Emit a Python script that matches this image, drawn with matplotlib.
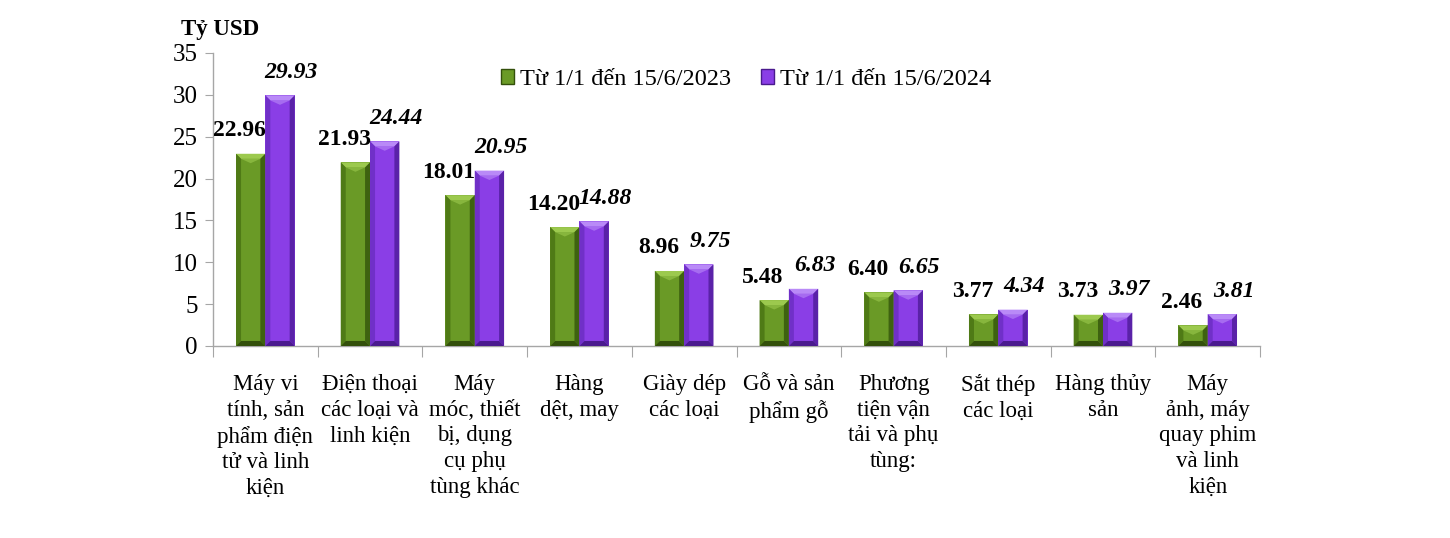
import matplotlib
matplotlib.use("Agg")
import matplotlib.pyplot as plt
from matplotlib.patches import Polygon, Patch
import numpy as np

categories = [
    "Máy vi\ntính, sản\nphẩm điện\ntử và linh\nkiện",
    "Điện thoại\ncác loại và\nlinh kiện",
    "Máy\nmóc, thiết\nbị, dụng\ncụ phụ\ntùng khác",
    "Hàng\ndệt, may",
    "Giày dép\ncác loại",
    "Gỗ và sản\nphẩm gỗ",
    "Phương\ntiện vận\ntải và phụ\ntùng:",
    "Sắt thép\ncác loại",
    "Hàng thủy\nsản",
    "Máy\nảnh, máy\nquay phim\nvà linh\nkiện",
]
values_2023 = [22.96, 21.93, 18.01, 14.20, 8.96, 5.48, 6.40, 3.77, 3.73, 2.46]
values_2024 = [29.93, 24.44, 20.95, 14.88, 9.75, 6.83, 6.65, 4.34, 3.97, 3.81]
series_names = ["Từ 1/1 đến 15/6/2023", "Từ 1/1 đến 15/6/2024"]
yticks = [0, 5, 10, 15, 20, 25, 30, 35]

plt.rcParams['font.family'] = ['Liberation Serif', 'DejaVu Serif']

green = {"face": "#6a9a26", "top": "#9cc94e", "left": "#4f7a16", "right": "#3e6210", "bottom": "#33500b"}
purple = {"face": "#8a3ee6", "top": "#b98af7", "left": "#7030c8", "right": "#5a22a8", "bottom": "#4a1a8e"}

fig = plt.figure(figsize=(14.5, 5.38), dpi=100)
ax = fig.add_axes([0.1469, 0.3569, 0.869 - 0.1469, 0.9015 - 0.3569])
x = np.arange(len(categories))
w = 0.28
ax.set_xlim(-0.5, len(categories) - 0.5)
ax.set_ylim(0, 35)

bars1 = ax.bar(x - w / 2, values_2023, w, color=green["face"], linewidth=0)
bars2 = ax.bar(x + w / 2, values_2024, w, color=purple["face"], linewidth=0)

# bevel decoration derived from each bar's geometry
fig.canvas.draw()
inv = ax.transData.inverted()
def bevel(bars, col, px=5):
    for b in bars:
        x0, y0 = b.get_x(), b.get_y()
        x1, y1 = x0 + b.get_width(), y0 + b.get_height()
        (dx0, dy0) = ax.transData.transform((x0, y0))
        (dx1, dy1) = ax.transData.transform((x1, y1))
        s = min(px, (dx1 - dx0) / 2, (dy1 - dy0) / 2)
        pts = {
            "o00": (dx0, dy0), "o10": (dx1, dy0), "o11": (dx1, dy1), "o01": (dx0, dy1),
            "i00": (dx0 + s, dy0 + s), "i10": (dx1 - s, dy0 + s),
            "i11": (dx1 - s, dy1 - s), "i01": (dx0 + s, dy1 - s),
        }
        d = {k: inv.transform(v) for k, v in pts.items()}
        quads = [
            (["o01", "o11", "i11", "i01"], col["top"]),
            (["o00", "o01", "i01", "i00"], col["left"]),
            (["o10", "o11", "i11", "i10"], col["right"]),
            (["o00", "o10", "i10", "i00"], col["bottom"]),
        ]
        for keys, c in quads:
            ax.add_patch(Polygon([d[k] for k in keys], closed=True, facecolor=c, edgecolor="none", zorder=3))
        chev_h_px = min((dx1 - dx0) * 0.15, (dy1 - dy0 - 2 * s) / 2)
        tip = inv.transform(((dx0 + dx1) / 2, dy1 - s - chev_h_px))
        ax.add_patch(Polygon([d["i01"], d["i11"], tip], closed=True, facecolor=col["top"],
                             edgecolor="none", alpha=0.6, zorder=3))

bevel(bars1, green)
bevel(bars2, purple)

for b, v in zip(bars1, values_2023):
    ax.annotate(f"{v:.2f}", (b.get_x() + b.get_width() / 2, v), xytext=(-8, 9),
                textcoords="offset points", ha="center", va="bottom",
                fontsize=17, fontweight="bold", color="black", zorder=5)
for b, v in zip(bars2, values_2024):
    ax.annotate(f"{v:.2f}", (b.get_x() + b.get_width() / 2, v), xytext=(8, 9),
                textcoords="offset points", ha="center", va="bottom",
                fontsize=17, fontweight="bold", fontstyle="italic", color="black", zorder=5)

for sp in ["top", "right"]:
    ax.spines[sp].set_visible(False)
for sp in ["left", "bottom"]:
    ax.spines[sp].set_color("#a6a6a6")
    ax.spines[sp].set_linewidth(1)

ax.set_yticks(yticks)
ax.tick_params(axis="y", direction="out", length=6, color="#a6a6a6", labelsize=18, pad=5)
ax.set_xticks(np.arange(len(categories) + 1) - 0.5)
ax.set_xticklabels([])
ax.tick_params(axis="x", which="major", direction="out", length=8, color="#a6a6a6")
ax.set_xticks(x, minor=True)
ax.set_xticklabels(categories, minor=True, fontsize=16.5, linespacing=1.3, va="top")
ax.tick_params(axis="x", which="minor", length=0, pad=20)

fig.text(0.125, 0.935, "Tỷ USD", fontsize=16.5, fontweight="bold", ha="left", va="baseline")

handles = [Patch(facecolor=green["face"], edgecolor=green["bottom"]),
           Patch(facecolor=purple["face"], edgecolor=purple["bottom"])]
leg = ax.legend(handles, series_names, loc="upper left", bbox_to_anchor=(0.254, 1.02),
                ncol=2, frameon=False, fontsize=17.5, handlelength=0.55, handleheight=0.55,
                handletextpad=0.25, columnspacing=1.2)

fig.savefig("out.png", dpi=100)
